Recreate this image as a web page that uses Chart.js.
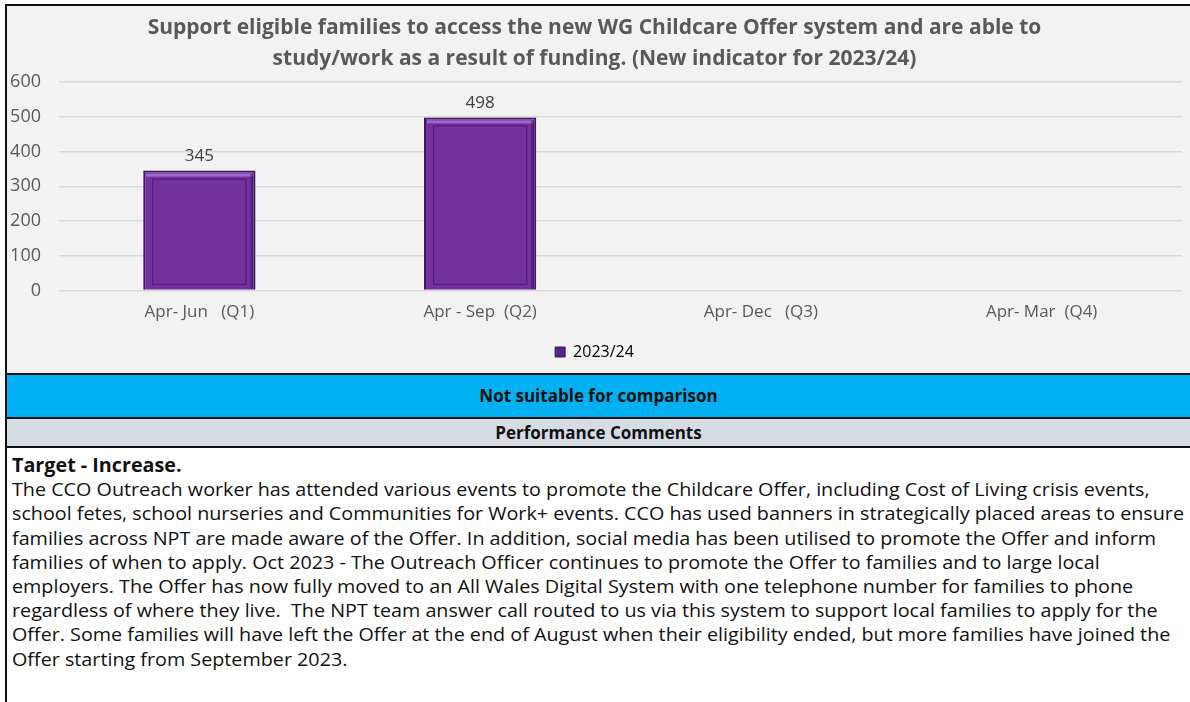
<!DOCTYPE html>
<html>
<head>
<meta charset="utf-8">
<script src="https://cdn.jsdelivr.net/npm/chart.js@4"></script>
<style>
  html, body { margin: 0; padding: 0; background: #fff; }
  body { width: 1190px; height: 702px; position: relative; overflow: hidden; font-family: "Open Sans", sans-serif; }
  .frame { position: absolute; left: 5px; top: 4px; right: 0; bottom: 0; border-left: 2px solid #111; border-top: 2px solid #111; }
  .chart-box { position: absolute; left: 0; top: 0; right: 0; height: 367px; background: #f2f2f2; }
  .band { position: absolute; left: 0; right: 0; text-align: center; font-weight: bold; color: #111; border-top: 2px solid #111; }
  .band.blue { top: 367px; height: 42px; line-height: 42px; background: #00b0f0; font-size: 17px; }
  .band.grey { top: 411px; height: 27px; line-height: 28px; background: #d6dce4; font-size: 17px; border-bottom: 2px solid #111; }
  .comments { position: absolute; left: 5px; top: 447px; right: 0; font-size: 17px; line-height: 24.2px; color: #111; }
  .comments div { white-space: pre; width: max-content; }
</style>
</head>
<body>
<div class="frame">
  <div class="chart-box"><canvas id="c" width="1183" height="367"></canvas></div>
  <div class="band blue">Not suitable for comparison</div>
  <div class="band grey">Performance Comments</div>
  <div class="comments" id="comments"></div>
</div>
<script>
  // chart data
  var quarters = ["Apr- Jun   (Q1)", "Apr - Sep  (Q2)", "Apr- Dec   (Q3)", "Apr- Mar  (Q4)"];
  var values2324 = [345, 498, null, null];
  var seriesName = "2023/24";
  var yTicks = [0, 100, 200, 300, 400, 500, 600];
  var titleLines = [
    "Support eligible families to access the new WG Childcare Offer system and are able to",
    "study/work as a result of funding. (New indicator for 2023/24)"
  ];
  var commentHead = "Target - Increase.";
  var commentLines = [
    "The CCO Outreach worker has attended various events to promote the Childcare Offer, including Cost of Living crisis events,",
    "school fetes, school nurseries and Communities for Work+ events. CCO has used banners in strategically placed areas to ensure",
    "families across NPT are made aware of the Offer. In addition, social media has been utilised to promote the Offer and inform",
    "families of when to apply. Oct 2023 - The Outreach Officer continues to promote the Offer to families and to large local",
    "employers. The Offer has now fully moved to an All Wales Digital System with one telephone number for families to phone",
    "regardless of where they live.  The NPT team answer call routed to us via this system to support local families to apply for the",
    "Offer. Some families will have left the Offer at the end of August when their eligibility ended, but more families have joined the",
    "Offer starting from September 2023."
  ];

  /* ---------- comments text ---------- */
  var box = document.getElementById("comments");
  var h = document.createElement("div");
  h.style.fontWeight = "bold";
  h.textContent = commentHead;
  box.appendChild(h);
  commentLines.forEach(function (t) {
    var d = document.createElement("div");
    d.textContent = t;
    box.appendChild(d);
  });
  // size the text so the widest line ends near the right edge, like the original
  var wMax = 0;
  Array.prototype.forEach.call(box.children, function (d) {
    wMax = Math.max(wMax, d.getBoundingClientRect().width);
  });
  var fs = 17 * 1172 / wMax;
  var sx = 1;
  if (fs > 19) { sx = fs / 19; fs = 19; }
  box.style.fontSize = fs + "px";
  Array.prototype.forEach.call(box.children, function (d) {
    d.style.transformOrigin = "0 0";
    d.style.transform = "scaleX(" + sx + ")";
  });

  /* ---------- value labels above bars + bevel ---------- */
  var valueLabels = {
    id: "valueLabels",
    afterDatasetsDraw: function (chart) {
      var ctx = chart.ctx;
      var meta = chart.getDatasetMeta(0);
      ctx.save();
      meta.data.forEach(function (bar, i) {
        var v = chart.data.datasets[0].data[i];
        if (v == null) return;
        var w = bar.width;
        ctx.strokeStyle = "rgba(40,10,70,0.55)";
        ctx.lineWidth = 1;
        ctx.strokeRect(bar.x - w / 2 + 9.5, bar.y + 8.5, w - 19, bar.base - bar.y - 14);
        ctx.fillStyle = "rgba(190,140,235,0.6)";
        ctx.fillRect(bar.x - w / 2 + 3, bar.y + 3, w - 6, 3);
        ctx.fillStyle = "rgba(40,10,70,0.45)";
        ctx.fillRect(bar.x + w / 2 - 5, bar.y + 3, 3, bar.base - bar.y - 4);
        ctx.font = "17px 'Open Sans', sans-serif";
        ctx.fillStyle = "#404040";
        ctx.textAlign = "center";
        ctx.textBaseline = "bottom";
        ctx.fillText(String(v), bar.x, bar.y - 6);
      });
      ctx.restore();
    }
  };

  new Chart(document.getElementById("c"), {
    type: "bar",
    data: {
      labels: quarters,
      datasets: [{
        label: seriesName,
        data: values2324,
        backgroundColor: "#7331a0",
        borderColor: "#3d1760",
        borderWidth: 2,
        barPercentage: 0.4,
        categoryPercentage: 1
      }]
    },
    options: {
      responsive: false,
      animation: false,
      layout: { padding: { left: 0, right: 8, top: 6, bottom: 3 } },
      plugins: {
        title: {
          display: true,
          text: titleLines,
          color: "#595959",
          font: { family: "'Open Sans', sans-serif", size: 21, weight: "bold", lineHeight: 1.45 },
          padding: { top: 1, bottom: 8 }
        },
        legend: {
          position: "bottom",
          labels: {
            color: "#595959",
            font: { family: "'Open Sans', sans-serif", size: 16 },
            boxWidth: 10, boxHeight: 10, padding: 12,
            generateLabels: function () {
              return [{ text: seriesName, fillStyle: "#5a2385", strokeStyle: "#3d1760", lineWidth: 1, datasetIndex: 0 }];
            }
          }
        },
        tooltip: { enabled: false }
      },
      scales: {
        x: {
          afterFit: function (s) { s.height += 7; },
          grid: { display: false },
          border: { display: false },
          ticks: { color: "#595959", font: { family: "'Open Sans', sans-serif", size: 17 }, padding: 3 }
        },
        y: {
          min: 0, max: 600,
          afterBuildTicks: function (s) { s.ticks = yTicks.map(function (v) { return { value: v }; }); },
          afterFit: function (s) { s.width = 52; },
          grid: { color: "#d9d9d9", lineWidth: 1.5, drawTicks: false },
          border: { display: false },
          ticks: {
            color: "#595959", font: { family: "'Open Sans', sans-serif", size: 18 },
            padding: 18
          }
        }
      }
    },
    plugins: [valueLabels]
  });
</script>
</body>
</html>
